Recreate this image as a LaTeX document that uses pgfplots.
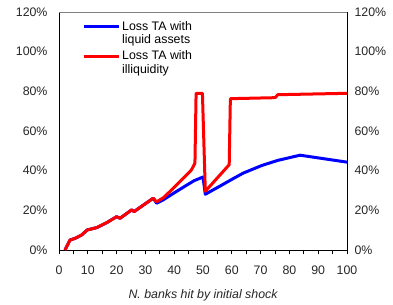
\documentclass[border=0pt]{standalone}
\usepackage{pgfplots}
\pgfplotsset{compat=1.18}
\usepackage{fontspec}
\setmainfont{Liberation Sans}
\begin{document}
\begin{tikzpicture}
\useasboundingbox (-59bp,-55bp) rectangle (334bp,250bp);
\pgfplotsset{
  every axis/.append style={
    scale only axis, width=288bp, height=238bp,
    at={(0,0)}, anchor=south west,
    xmin=0, xmax=100, ymin=0, ymax=120,
    /pgf/number format/assume math mode=true,
    tick label style={font=\fontsize{12.4}{13.3}\selectfont, text=black!85},
    ytick={0,20,40,60,80,100,120},
    yticklabels={0\%,20\%,40\%,60\%,80\%,100\%,120\%},
    ytick style={draw=none},
  }
}
\begin{axis}[
  axis line style={black, line width=0.8bp},
  xtick={0,10,...,100},
  minor xtick={5,15,...,95},
  xtick pos=bottom, ytick pos=left,
  tick align=outside,
  major tick length=4bp, minor tick length=4bp,
  xtick style={black, line width=0.8bp},
  minor tick style={black, line width=0.8bp},
  yticklabel style={xshift=-4bp},
  xticklabel style={yshift=-8bp},
  xlabel={\itshape N. banks hit by initial shock},
  xlabel style={font=\fontsize{12.4}{13.3}\selectfont, text=black!85, yshift=-8bp},
  legend style={at={(axis description cs:0.08,0.97)}, anchor=north west, draw=none, fill=none,
    font=\fontsize{12.4}{13.3}\selectfont, cells={anchor=west, align=left}, inner sep=0pt,
    row sep=2bp},
  legend cell align=left,
  legend image code/.code={\draw[#1] (0bp,6.5bp) -- (35bp,6.5bp);},
  after end axis/.code={\draw[gray, line width=0.8bp] (rel axis cs:0,1) -- (rel axis cs:1,1);},
]
\addplot[blue, line width=3bp, line join=round] coordinates {
(2.1,0) (3.8,5) (5.6,5.9) (7.9,7.6) (9.8,10.1) (13.1,11.3) (16.6,13.8) (20,16.8) (21.2,16)
(25.2,20.2) (26.1,19.4) (32.7,26.1) (33.9,23.6) (36.2,25.3) (40,28.8) (44,32.4) (47,35) (50,36.8)
(50.8,28.1) (56,32.3) (60,35.6) (64,38.8) (70.4,42.6) (76,45.2) (83.7,47.8) (100,44.3)
};
\addlegendentry{Loss TA with\\liquid assets}
\addplot[red, line width=3bp, line join=round] coordinates {
(2.1,0) (3.8,5) (5.6,5.9) (7.9,7.6) (9.8,10.1) (13.1,11.3) (16.6,13.8) (20,16.8) (21.2,16)
(25.2,20.2) (26.1,19.4) (32.7,26.1) (33.9,24.3) (36.2,26.3) (39.1,30.3) (43.2,36.2) (46,40.4) (47.2,43.8)
(47.6,79) (49.8,79) (50.8,29.6) (59.1,43) (59.5,76.3) (75,76.8) (76,78.3) (100,79)
};
\addlegendentry{Loss TA with\\illiquidity}
\end{axis}
\begin{axis}[
  axis x line=none,
  axis y line*=right,
  axis line style={black, line width=0.8bp, -},
  yticklabel style={xshift=4bp},
]
\addplot[draw=none] coordinates {(0,0)};
\end{axis}
\end{tikzpicture}
\end{document}
